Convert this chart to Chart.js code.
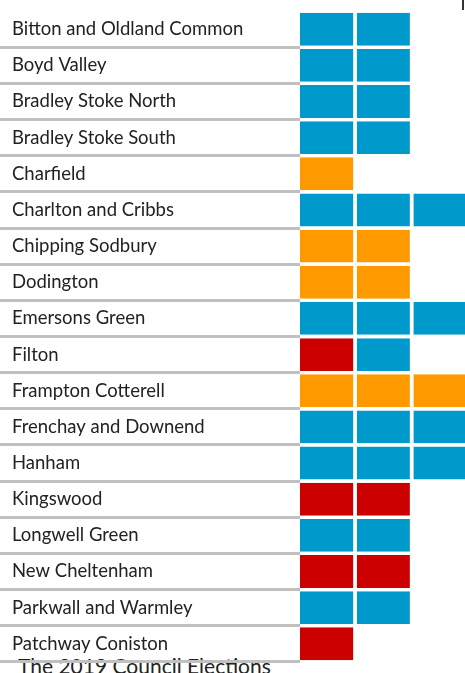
<!DOCTYPE html>
<html>
<head>
<meta charset="utf-8">
<script src="https://cdn.jsdelivr.net/npm/chart.js@4"></script>
<style>
    html, body { margin: 0; padding: 0; background: #fff; }
    body { width: 465px; height: 673px; overflow: hidden; position: relative; }
    #wrap { position: absolute; left: 0; top: 0; width: 470px; height: 673px; z-index: 2; }
    #title {
        position: absolute; left: 18px; top: 656px; z-index: 1;
        font-family: Lato, sans-serif; font-size: 21px; line-height: 20px;
        color: #222; white-space: nowrap;
    }
    #corner { position: absolute; left: 462px; top: 0; width: 2px; height: 10px; background: #333; }
</style>
</head>
<body>
<div id="title">The 2019 Council Elections</div>
<div id="corner"></div>
<div id="wrap"><canvas id="seatChart" width="470" height="673"></canvas></div>

<script>
// Wards and seats won per party
const wards = [
    'Bitton and Oldland Common', 'Boyd Valley', 'Bradley Stoke North', 'Bradley Stoke South',
    'Charfield', 'Charlton and Cribbs', 'Chipping Sodbury', 'Dodington', 'Emersons Green',
    'Filton', 'Frampton Cotterell', 'Frenchay and Downend', 'Hanham', 'Kingswood',
    'Longwell Green', 'New Cheltenham', 'Parkwall and Warmley', 'Patchway Coniston'
];
const labour       = [0, 0, 0, 0, 0, 0, 0, 0, 0, 1, 0, 0, 0, 2, 0, 2, 0, 1];
const conservative = [2, 2, 2, 2, 0, 3, 0, 0, 3, 1, 0, 3, 3, 0, 2, 0, 2, 0];
const libDem       = [0, 0, 0, 0, 1, 0, 2, 2, 0, 0, 3, 0, 0, 0, 0, 0, 0, 0];

const partyColours = { lab: '#cc0000', con: '#0099cc', ld: '#ff9900' };

// One square per seat: list each ward's seats in order Labour, Conservative, Lib Dem
const seats = wards.map((w, i) => [
    ...Array(labour[i]).fill('lab'),
    ...Array(conservative[i]).fill('con'),
    ...Array(libDem[i]).fill('ld')
]);
const maxSeats = Math.max(...seats.map(s => s.length));

const datasets = [];
for (let slot = 0; slot < maxSeats; slot++) {
    datasets.push({
        label: 'Seat ' + (slot + 1),
        data: seats.map(s => s[slot] ? 1 : 0),
        backgroundColor: seats.map(s => s[slot] ? partyColours[s[slot]] : 'rgba(0,0,0,0)'),
        borderColor: '#fff',
        borderWidth: { top: 0, bottom: 0, left: 0, right: 3.5 },
        borderSkipped: false,
        categoryPercentage: 1,
        barPercentage: 0.91
    });
}

new Chart(document.getElementById('seatChart'), {
    type: 'bar',
    data: { labels: wards, datasets: datasets },
    options: {
        indexAxis: 'y',
        responsive: false,
        animation: false,
        layout: { padding: { left: 12, top: 9.3, bottom: 10.3, right: 0 } },
        plugins: { legend: { display: false }, tooltip: { enabled: false }, title: { display: false } },
        scales: {
            x: { stacked: true, min: 0, max: 3, display: false },
            y: {
                stacked: true,
                afterFit: function(scale) { scale.width = 288; },
                border: { display: false },
                grid: {
                    offset: true,
                    drawOnChartArea: false,
                    tickLength: 300,
                    lineWidth: 3,
                    color: ctx => ctx.index === 0 ? 'rgba(0,0,0,0)' : '#c0c0c0'
                },
                ticks: {
                    crossAlign: 'far',
                    padding: 0,
                    color: '#222',
                    font: { family: 'Lato', size: 18.5 }
                }
            }
        }
    }
});
</script>
</body>
</html>
